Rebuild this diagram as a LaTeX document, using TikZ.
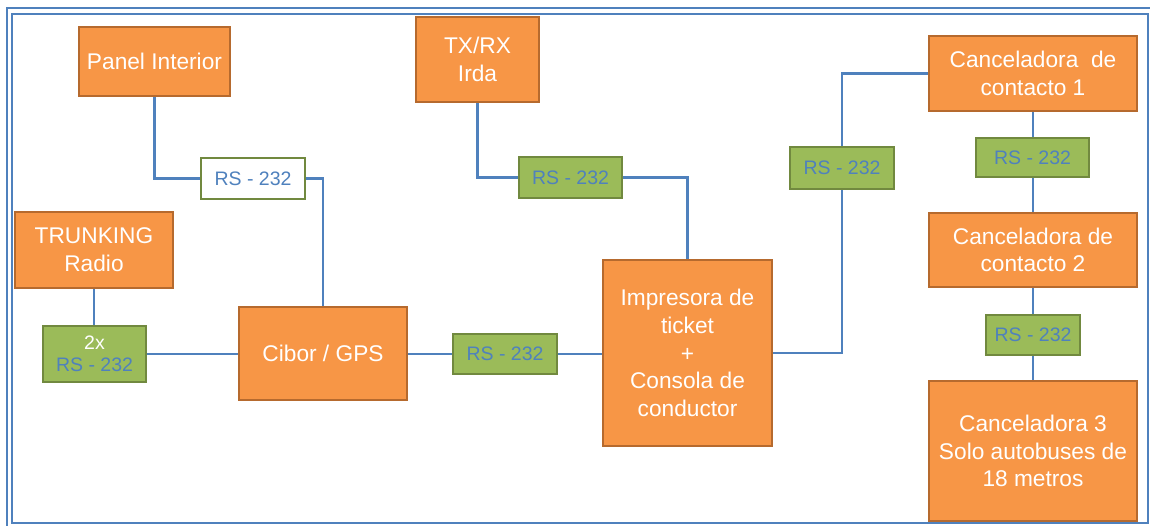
\documentclass[tikz,border=0pt]{standalone}
\usepackage{fontspec}
\setmainfont{Liberation Sans}
\definecolor{boxorange}{HTML}{F79646}
\definecolor{boxorangeline}{HTML}{B66A2E}
\definecolor{boxgreen}{HTML}{9BBB59}
\definecolor{boxgreenline}{HTML}{71893F}
\definecolor{wireblue}{HTML}{4F81BD}
\tikzset{
  unit/.style={draw=boxorangeline, fill=boxorange, line width=2pt, text=white,
    align=center, inner sep=0pt,
    font=\fontsize{22.7}{27.7}\selectfont},
  port/.style={draw=boxgreenline, fill=boxgreen, line width=2pt, text=wireblue,
    align=center, inner sep=0pt,
    font=\fontsize{19.5}{22}\selectfont},
  portwhite/.style={port, fill=white},
  wire/.style={draw=wireblue, line width=2.6pt},
  frame/.style={draw=wireblue, line width=2pt}
}
\begin{document}
\begin{tikzpicture}[x=1pt,y=-1pt]
\useasboundingbox (0,0) rectangle (1150,525);
% double page frame
\begin{scope}
\clip (0,0) rectangle (1150,525);
\draw[frame] (7,8) rectangle (1158,533);
\draw[frame] (12,13.5) rectangle (1148,523);
\end{scope}

% units
\node[unit, minimum width=151pt, minimum height=69pt] (panel) at (154.5,61.5) {Panel Interior};
\node[unit, minimum width=158pt, minimum height=76pt] (trunk) at (94,250) {TRUNKING\\Radio};
\node[unit, minimum width=168pt, minimum height=93pt] (cibor) at (323,353.5) {Cibor / GPS};
\node[unit, minimum width=123pt, minimum height=85pt] (txrx) at (477.5,59.5) {TX/RX\\Irda};
\node[unit, minimum width=169pt, minimum height=186pt] (imp) at (687.5,353) {Impresora de\\ticket\\+\\Consola de\\conductor};
\node[unit, minimum width=208pt, minimum height=75pt] (canc1) at (1033,73.5) {Canceladora\ \ de\\contacto 1};
\node[unit, minimum width=208pt, minimum height=74pt] (canc2) at (1033,250) {Canceladora de\\contacto 2};
\node[unit, minimum width=208pt, minimum height=140pt] (canc3) at (1033,451) {Canceladora 3\\Solo autobuses de\\18 metros};

% serial ports
\node[portwhite, minimum width=104pt, minimum height=41pt] (rspanel) at (253,178.5) {RS - 232};
\node[port, minimum width=103pt, minimum height=56pt] (rstrunk) at (94.5,354) {\textcolor{white}{2x}\\RS - 232};
\node[port, minimum width=104pt, minimum height=40pt] (rscibor) at (505,354) {RS - 232};
\node[port, minimum width=103pt, minimum height=41pt] (rsirda) at (570.5,177.5) {RS - 232};
\node[port, minimum width=104pt, minimum height=42pt] (rsimp) at (842,168) {RS - 232};
\node[port, minimum width=113pt, minimum height=39pt] (rsc1) at (1032.5,157.5) {RS - 232};
\node[port, minimum width=94pt, minimum height=40pt] (rsc2) at (1033,335) {RS - 232};

% wiring
\draw[wire] (panel.south) |- (rspanel.west);
\draw[wire] (rspanel.east) -| (cibor.north);
\draw[wire] (trunk.south) -- (trunk.south |- rstrunk.north);
\draw[wire] (rstrunk.east) -- (rstrunk.east -| cibor.west);
\draw[wire] (rscibor.west -| cibor.east) -- (rscibor.west);
\draw[wire] (rscibor.east) -- (rscibor.east -| imp.west);
\draw[wire] (txrx.south) |- (rsirda.west);
\draw[wire] (rsirda.east) -| (imp.north);
\draw[wire] (imp.east) -| (rsimp.south);
\draw[wire] (rsimp.north) |- (canc1.west);
\draw[wire] (canc1.south) -- (canc1.south |- rsc1.north);
\draw[wire] (rsc1.south -| canc1.south) -- (canc2.north);
\draw[wire] (canc2.south) -- (rsc2.north);
\draw[wire] (rsc2.south) -- (canc3.north);
\end{tikzpicture}
\end{document}
